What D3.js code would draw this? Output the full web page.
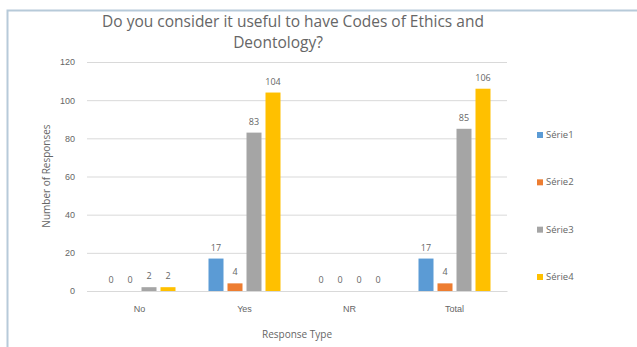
<!DOCTYPE html>
<html>
<head>
<meta charset="utf-8">
<script src="https://cdn.jsdelivr.net/npm/d3@7"></script>
<style>
  html, body { margin: 0; padding: 0; background: #fff; overflow: hidden; }
  svg { display: block; font-family: "Open Sans", "Liberation Sans", sans-serif; }
</style>
</head>
<body>
<svg id="chart" width="637" height="347"></svg>
<script>
// Response types along the x axis
const categories = ["No", "Yes", "NR", "Total"];
// One series per legend entry
const seriesNames = ["Série1", "Série2", "Série3", "Série4"];
const serie1 = [0, 17, 0, 17];
const serie2 = [0, 4, 0, 4];
const serie3 = [2, 83, 0, 85];
const serie4 = [2, 104, 0, 106];
const yTicks = [0, 20, 40, 60, 80, 100, 120];
const colors = ["#5B9BD5", "#ED7D31", "#A5A5A5", "#FFC000"];

const seriesValues = [serie1, serie2, serie3, serie4];
const rows = [];
categories.forEach((c, i) => {
  seriesNames.forEach((s, j) => rows.push({ cat: c, series: s, idx: j, value: seriesValues[j][i] }));
});

const svg = d3.select("#chart");
const textColor = "#666666";

// Outer frame (open to the right and bottom)
svg.append("rect").attr("x", 0).attr("y", 0).attr("width", 637).attr("height", 347).attr("fill", "#fff");
svg.append("path")
  .attr("d", "M7.5,347 V10.5 H637")
  .attr("fill", "none").attr("stroke", "#b7cad9").attr("stroke-width", 2);

const plot = { left: 87, right: 507, top: 62, bottom: 291 };

const x = d3.scaleBand().domain(categories).range([plot.left, plot.right]);
const y = d3.scaleLinear().domain([0, 120]).range([plot.bottom, plot.top]);
const barW = 15, gap = 4;
const groupW = seriesNames.length * barW + (seriesNames.length - 1) * gap;
const xs = d3.scaleBand().domain(seriesNames)
  .range([0, groupW]).paddingInner(gap / (barW + gap)).paddingOuter(0);

// Gridlines + tick labels
const yAxis = d3.axisLeft(y).tickValues(yTicks).tickSize(-(plot.right - plot.left)).tickPadding(12);
const gy = svg.append("g").attr("transform", `translate(${plot.left},0)`).call(yAxis);
gy.select(".domain").remove();
gy.selectAll(".tick line").attr("stroke", "#d9d9d9").attr("stroke-width", 1);
gy.selectAll(".tick text").attr("fill", textColor).attr("font-size", 9);

// Category axis
const xAxis = d3.axisBottom(x).tickSize(0).tickPadding(15);
const gx = svg.append("g").attr("transform", `translate(0,${plot.bottom})`).call(xAxis);
gx.select(".domain").attr("stroke", "#d9d9d9");
gx.selectAll(".tick text").attr("fill", textColor).attr("font-size", 9);

// Bars
const groups = svg.append("g");
groups.selectAll("rect").data(rows).join("rect")
  .attr("x", d => x(d.cat) + (x.bandwidth() - groupW) / 2 + xs(d.series))
  .attr("y", d => y(d.value))
  .attr("width", xs.bandwidth())
  .attr("height", d => y(0) - y(d.value))
  .attr("fill", d => colors[d.idx]);

// Value labels
groups.selectAll("text").data(rows).join("text")
  .attr("x", d => x(d.cat) + (x.bandwidth() - groupW) / 2 + xs(d.series) + xs.bandwidth() / 2)
  .attr("y", d => y(d.value) - 8)
  .attr("text-anchor", "middle")
  .attr("fill", textColor)
  .attr("font-size", 9)
  .text(d => d.value);

// Title
svg.append("text").attr("x", 293).attr("y", 27).attr("text-anchor", "middle")
  .attr("fill", textColor).attr("font-size", 15.5)
  .text("Do you consider it useful to have Codes of Ethics and");
svg.append("text").attr("x", 278).attr("y", 48).attr("text-anchor", "middle")
  .attr("fill", textColor).attr("font-size", 15.5)
  .text("Deontology?");

// Axis titles
svg.append("text").attr("transform", "translate(50,176) rotate(-90)")
  .attr("text-anchor", "middle").attr("fill", textColor).attr("font-size", 10)
  .text("Number of Responses");
svg.append("text").attr("x", 297).attr("y", 338).attr("text-anchor", "middle")
  .attr("fill", textColor).attr("font-size", 10)
  .text("Response Type");

// Legend
const legend = svg.append("g");
const legendY = d3.scalePoint().domain(seriesNames).range([135, 277]);
seriesNames.forEach((s, j) => {
  const gL = legend.append("g").attr("transform", `translate(537,${legendY(s)})`);
  gL.append("rect").attr("x", 0).attr("y", -3).attr("width", 6).attr("height", 6).attr("fill", colors[j]);
  gL.append("text").attr("x", 9).attr("y", 3).attr("fill", textColor).attr("font-size", 9.5).text(s);
});
</script>
</body>
</html>
